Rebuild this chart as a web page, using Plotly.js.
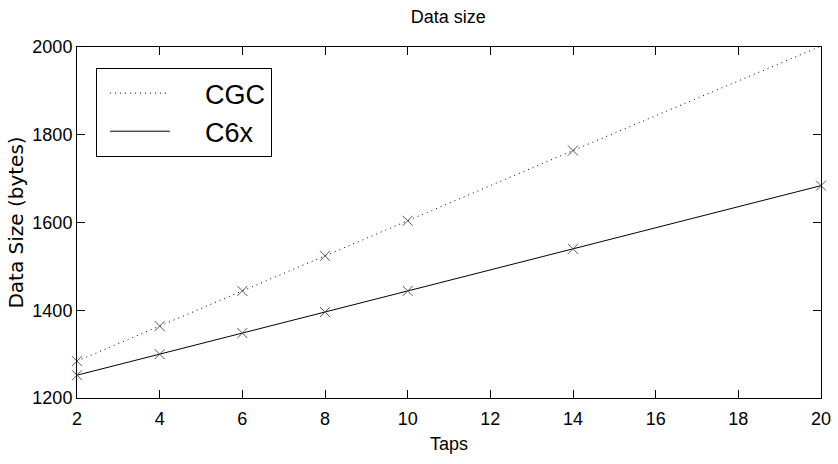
<!DOCTYPE html>
<html>
<head>
<meta charset="utf-8">
<script src="https://cdn.plot.ly/plotly-3.0.1.min.js"></script>
<style>html,body{margin:0;padding:0;background:#fff;}#chart{width:838px;height:464px;}</style>
</head>
<body>
<div id="chart"></div>
<script>
const taps = [2, 4, 6, 8, 10, 14, 20];
const cgcSize = [1284, 1364, 1444, 1524, 1604, 1764, 2002];
const c6xSize = [1252, 1300, 1348, 1396, 1444, 1540, 1684];
const seriesNames = ['CGC', 'C6x'];
const xTicks = [2, 4, 6, 8, 10, 12, 14, 16, 18, 20];
const yTicks = [1200, 1400, 1600, 1800, 2000];

const sans = '"Liberation Sans", Arial, sans-serif';
const pad = '\u00a0\u00a0\u00a0\u00a0';
const dotted = '1px,4px';
const markerStyle = {symbol: 'x-thin', size: 10, line: {color: '#555', width: 1}};

const traces = [
  {x: taps, y: cgcSize, name: seriesNames[0], mode: 'lines+markers', cliponaxis: false, showlegend: false,
   line: {color: '#000', width: 1, dash: dotted}, marker: markerStyle},
  {x: taps, y: c6xSize, name: seriesNames[1], mode: 'lines+markers', cliponaxis: false, showlegend: false,
   line: {color: '#000', width: 1}, marker: markerStyle},
  // legend-only entries (line samples without markers)
  {x: [null], y: [null], name: pad + seriesNames[0], mode: 'lines', showlegend: true,
   line: {color: '#000', width: 1, dash: dotted}},
  {x: [null], y: [null], name: pad + seriesNames[1], mode: 'lines', showlegend: true,
   line: {color: '#000', width: 1}}
];

const axisCommon = {
  showline: true, linecolor: '#000', linewidth: 1, mirror: 'ticks',
  ticks: 'inside', ticklen: 8, tickcolor: '#000', showgrid: false, zeroline: false,
  tickfont: {family: sans, size: 18, color: '#000'}
};

const layout = {
  width: 838, height: 464,
  margin: {l: 77, r: 17, t: 47, b: 66},
  paper_bgcolor: '#fff', plot_bgcolor: '#fff',
  title: {text: 'Data size', font: {family: sans, size: 18, color: '#000'}, x: 0.535, xanchor: 'center', y: 0.963, yanchor: 'middle'},
  xaxis: Object.assign({}, axisCommon, {range: [2, 20], tickvals: xTicks, ticktext: xTicks.map(String),
    ticklabelstandoff: 4,
    title: {text: 'Taps', font: {family: sans, size: 18, color: '#000'}, standoff: 9}}),
  yaxis: Object.assign({}, axisCommon, {range: [1200, 2000], tickvals: yTicks, ticktext: yTicks.map(String),
    title: {text: 'Data Size (bytes)', font: {family: '"DejaVu Sans", sans-serif', size: 20, color: '#000'}, standoff: 3}}),
  showlegend: true,
  legend: {x: 0.0255, y: 0.94, xanchor: 'left', yanchor: 'top', bordercolor: '#000', borderwidth: 1,
    bgcolor: '#fff', itemwidth: 60, indentation: 8, font: {family: sans, size: 27, color: '#000'}, tracegroupgap: 0}
};

Plotly.newPlot('chart', traces, layout, {displayModeBar: false, staticPlot: true});
</script>
</body>
</html>
